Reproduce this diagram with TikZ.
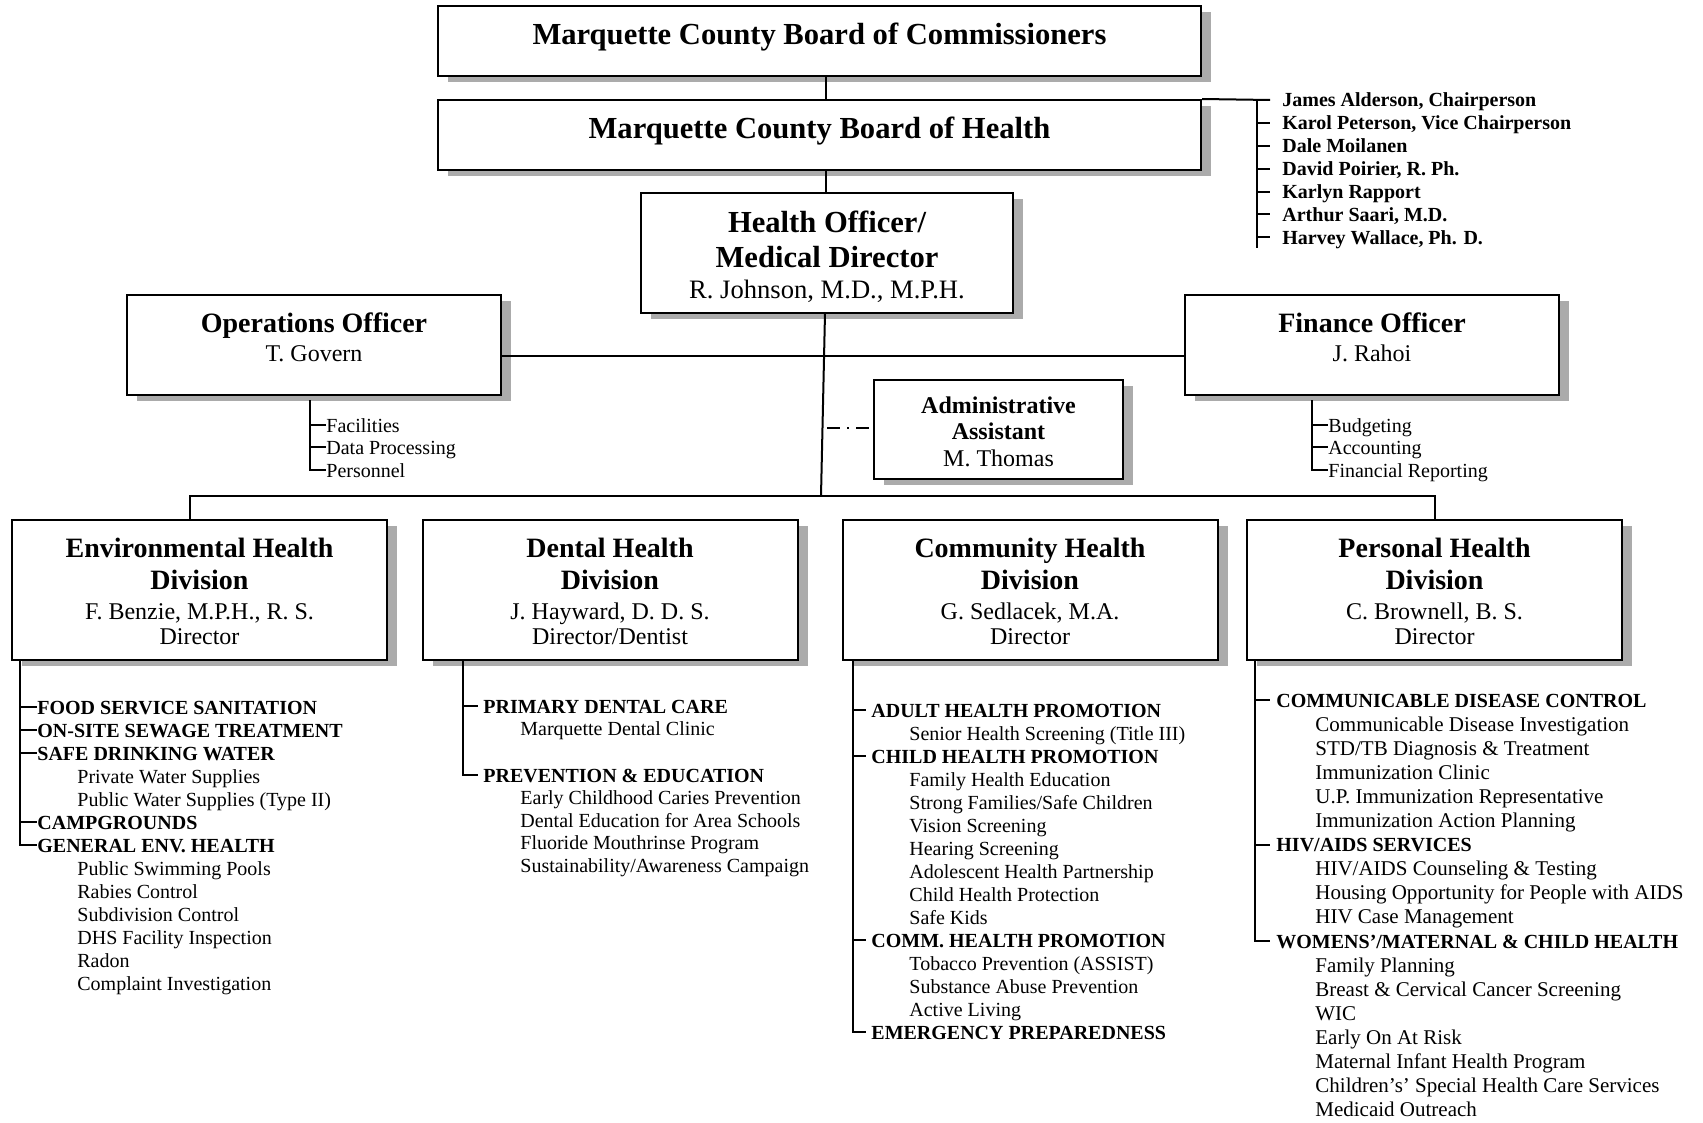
\documentclass[tikz,border=0pt]{standalone}
\usepackage{fontspec}
\setmainfont{Liberation Serif}
\usetikzlibrary{shadows}
\begin{document}
\begin{tikzpicture}[x=0.5pt,y=-0.5pt,
  box/.style={draw=black, line width=1pt, fill=white, inner sep=0pt,
    general shadow={fill=black!33, shadow xshift=5pt, shadow yshift=-3pt}},
  divbox/.style={box, minimum width=187.5pt, minimum height=70pt},
  ln/.style={line width=1pt},
  tl/.style={inner sep=0pt, anchor=base},
  ftA/.style={font=\fontsize{15.3}{18}\selectfont\bfseries},
  ftB/.style={font=\fontsize{14}{16}\selectfont\bfseries},
  ftC/.style={font=\fontsize{12}{14}\selectfont},
  ftCb/.style={font=\fontsize{12}{14}\selectfont\bfseries},
  ftD/.style={font=\fontsize{13.3}{15}\selectfont},
  li/.style={inner sep=0pt, anchor=west, text height=7pt, text depth=0pt, font=\fontsize{10}{12}\selectfont},
  lh/.style={li, font=\fontsize{10}{12}\selectfont\bfseries},
  lp/.style={li, font=\fontsize{10.5}{12}\selectfont}]
\useasboundingbox (0,0) rectangle (1703,1123);
\fill[white] (0,0) rectangle (1703,1123);

% ---------- boxes ----------
\node[box, minimum width=381.5pt, minimum height=35pt] (comm) at (819.5,41) {};
\node[box, minimum width=381.5pt, minimum height=35pt] (boh) at (819.5,135) {};
\node[box, minimum width=186pt, minimum height=60pt] (ho) at (827,253) {};
\node[box, minimum width=187pt, minimum height=50pt] (ops) at (314,345) {};
\node[box, minimum width=187pt, minimum height=50pt] (fin) at (1372,345) {};
\node[box, minimum width=124.5pt, minimum height=49.5pt] (adm) at (998.5,429.5) {};
\node[divbox] (env) at (199.5,590) {};
\node[divbox] (den) at (610,590) {};
\node[divbox] (com) at (1030,590) {};
\node[divbox] (per) at (1434.5,590) {};

% ---------- box texts ----------
\node[tl, ftA] (commt) at (819.5,45) {Marquette County Board of Commissioners};
\node[tl, ftA] (boht) at (819.5,139) {Marquette County Board of Health};
\node[tl, ftA] (hot1) at (827,233) {Health Officer/};
\node[tl, ftA] (hot2) at (827,268) {Medical Director};
\node[tl, ftD] (hot3) at (827,299) {R. Johnson, M.D., M.P.H.};
\node[tl, ftB] (opst1) at (314,333) {Operations Officer};
\node[tl, ftC] (opst2) at (314,361) {T. Govern};
\node[tl, ftB] (fint1) at (1372,333) {Finance Officer};
\node[tl, ftC] (fint2) at (1372,361) {J. Rahoi};
\node[tl, ftCb] (admt1) at (998.5,413) {Administrative};
\node[tl, ftCb] (admt2) at (998.5,439) {Assistant};
\node[tl, ftC] (admt3) at (998.5,466) {M. Thomas};

\node[tl, ftB] (envt1) at (199.5,557) {Environmental Health};
\node[tl, ftB] (envt2) at (199.5,589) {Division};
\node[tl, ftC] (envt3) at (199.5,619) {F. Benzie, M.P.H., R. S.};
\node[tl, ftC] (envt4) at (199.5,644) {Director};

\node[tl, ftB] (dent1) at (610,557) {Dental Health};
\node[tl, ftB] (dent2) at (610,589) {Division};
\node[tl, ftC] (dent3) at (610,619) {J. Hayward, D. D. S.};
\node[tl, ftC] (dent4) at (610,644) {Director/Dentist};

\node[tl, ftB] (comt1) at (1030,557) {Community Health};
\node[tl, ftB] (comt2) at (1030,589) {Division};
\node[tl, ftC] (comt3) at (1030,619) {G. Sedlacek, M.A.};
\node[tl, ftC] (comt4) at (1030,644) {Director};

\node[tl, ftB] (pert1) at (1434.5,557) {Personal Health};
\node[tl, ftB] (pert2) at (1434.5,589) {Division};
\node[tl, ftC] (pert3) at (1434.5,619) {C. Brownell, B. S.};
\node[tl, ftC] (pert4) at (1434.5,644) {Director};

% ---------- main connectors ----------
\coordinate (vx) at (826,0);
\draw[ln] (comm.south -| vx) -- (boh.north -| vx);
\draw[ln] (boh.south -| vx) -- (ho.north -| vx);
\coordinate (ctop) at (825,313);
\coordinate (cbot) at (821,496);
\draw[ln] (ctop) -- (cbot);
\draw[ln] ([yshift=-5.5pt]ops.east) -- ([yshift=-5.5pt]fin.west);
\coordinate (dd) at (827,428);
\draw[line width=1pt, dash pattern=on 6.5pt off 3.5pt on 1pt off 3.5pt on 6.5pt off 10pt] (dd) -- (adm.west |- dd);
\coordinate (busL) at (190,496);
\coordinate (busR) at (1434.5,496);
\draw[ln] (busL |- env.north) -- (busL) -- (busR) -- (per.north);

% ---------- board members ----------
\node[lh] (m1) at (1282,100) {James Alderson, Chairperson};
\node[lh] (m2) at (1282,122.9) {Karol Peterson, Vice Chairperson};
\node[lh] (m3) at (1282,145.8) {Dale Moilanen};
\node[lh] (m4) at (1282,168.7) {David Poirier, R. Ph.};
\node[lh] (m5) at (1282,191.6) {Karlyn Rapport};
\node[lh] (m6) at (1282,214.5) {Arthur Saari, M.D.};
\node[lh] (m7) at (1282,237.4) {Harvey Wallace, Ph. D.};
\coordinate (memT) at (1257,100);
\coordinate (memB) at (1257,248);
\draw[ln] (boh.north east) -- ([xshift=-6pt]m1.west);
\draw[ln] (memT) -- (memB);
\foreach \n in {m2,m3,m4,m5,m6,m7} \draw[ln] (memT |- \n.west) -- ([xshift=-6pt]\n.west);

% ---------- operations list ----------
\coordinate (opsT) at (310,400);
\node[li] (o1) at (326,425) {Facilities};
\node[li] (o2) at (326,447) {Data Processing};
\node[li] (o3) at (326,470) {Personnel};
\draw[ln] (opsT) -- (opsT |- o3.west) -- (o3.west);
\foreach \n in {o1,o2} \draw[ln] (opsT |- \n.west) -- (\n.west);

% ---------- finance list ----------
\coordinate (finT) at (1312,400);
\node[li] (f1) at (1328,425) {Budgeting};
\node[li] (f2) at (1328,447) {Accounting};
\node[li] (f3) at (1328,470) {Financial Reporting};
\draw[ln] (finT) -- (finT |- f3.west) -- (f3.west);
\foreach \n in {f1,f2} \draw[ln] (finT |- \n.west) -- (\n.west);

% ---------- environmental list ----------
\coordinate (envT) at (20,660);
\node[lh] (e1) at (37,707) {FOOD SERVICE SANITATION};
\node[lh] (e2) at (37,730) {ON-SITE SEWAGE TREATMENT};
\node[lh] (e3) at (37,753) {SAFE DRINKING WATER};
\node[li] (e4) at (77,776) {Private Water Supplies};
\node[li] (e5) at (77,799) {Public Water Supplies (Type II)};
\node[lh] (e6) at (37,822) {CAMPGROUNDS};
\node[lh] (e7) at (37,845) {GENERAL ENV. HEALTH};
\node[li] (e8) at (77,868) {Public Swimming Pools};
\node[li] (e9) at (77,891) {Rabies Control};
\node[li] (e10) at (77,914) {Subdivision Control};
\node[li] (e11) at (77,937) {DHS Facility Inspection};
\node[li] (e12) at (77,960) {Radon};
\node[li] (e13) at (77,983) {Complaint Investigation};
\draw[ln] (envT) -- (envT |- e7.west) -- (e7.west);
\foreach \n in {e1,e2,e3,e6} \draw[ln] (envT |- \n.west) -- (\n.west);

% ---------- dental list ----------
\coordinate (denT) at (463,660);
\node[lh] (d1) at (483,706) {PRIMARY DENTAL CARE};
\node[li] (d2) at (520,728) {Marquette Dental Clinic};
\node[lh] (d3) at (483,775) {PREVENTION \& EDUCATION};
\node[li] (d4) at (520,797.5) {Early Childhood Caries Prevention};
\node[li] (d5) at (520,820) {Dental Education for Area Schools};
\node[li] (d6) at (520,842.5) {Fluoride Mouthrinse Program};
\node[li] (d7) at (520,865) {Sustainability/Awareness Campaign};
\draw[ln] (denT) -- (denT |- d3.west) -- ([xshift=-2.5pt]d3.west);
\draw[ln] (denT |- d1.west) -- ([xshift=-2.5pt]d1.west);

% ---------- community list ----------
\coordinate (comT) at (853,660);
\node[lh] (c1) at (871,710) {ADULT HEALTH PROMOTION};
\node[li] (c2) at (909,733) {Senior Health Screening (Title III)};
\node[lh] (c3) at (871,756) {CHILD HEALTH PROMOTION};
\node[li] (c4) at (909,779) {Family Health Education};
\node[li] (c5) at (909,802) {Strong Families/Safe Children};
\node[li] (c6) at (909,825) {Vision Screening};
\node[li] (c7) at (909,848) {Hearing Screening};
\node[li] (c8) at (909,871) {Adolescent Health Partnership};
\node[li] (c9) at (909,894) {Child Health Protection};
\node[li] (c10) at (909,917) {Safe Kids};
\node[lh] (c11) at (871,940) {COMM. HEALTH PROMOTION};
\node[li] (c12) at (909,963) {Tobacco Prevention (ASSIST)};
\node[li] (c13) at (909,986) {Substance Abuse Prevention};
\node[li] (c14) at (909,1009) {Active Living};
\node[lh] (c15) at (871,1032) {EMERGENCY PREPAREDNESS};
\draw[ln] (comT) -- (comT |- c15.west) -- ([xshift=-2.5pt]c15.west);
\foreach \n in {c1,c3,c11} \draw[ln] (comT |- \n.west) -- ([xshift=-2.5pt]\n.west);

% ---------- personal list ----------
\coordinate (perT) at (1255,660);
\node[lh] (p1) at (1276,700) {COMMUNICABLE DISEASE CONTROL};
\node[lp] (p2) at (1315,724.1) {Communicable Disease Investigation};
\node[lp] (p3) at (1315,748.2) {STD/TB Diagnosis \& Treatment};
\node[lp] (p4) at (1315,772.3) {Immunization Clinic};
\node[lp] (p5) at (1315,796.4) {U.P. Immunization Representative};
\node[lp] (p6) at (1315,820.5) {Immunization Action Planning};
\node[lh] (p7) at (1276,844.6) {HIV/AIDS SERVICES};
\node[lp] (p8) at (1315,868.7) {HIV/AIDS Counseling \& Testing};
\node[lp] (p9) at (1315,892.8) {Housing Opportunity for People with AIDS};
\node[lp] (p10) at (1315,916.9) {HIV Case Management};
\node[lh] (p11) at (1276,941) {WOMENS’/MATERNAL \& CHILD HEALTH};
\node[lp] (p12) at (1315,965.1) {Family Planning};
\node[lp] (p13) at (1315,989.2) {Breast \& Cervical Cancer Screening};
\node[lp] (p14) at (1315,1013.3) {WIC};
\node[lp] (p15) at (1315,1037.4) {Early On At Risk};
\node[lp] (p16) at (1315,1061.5) {Maternal Infant Health Program};
\node[lp] (p17) at (1315,1085.6) {Children’s’ Special Health Care Services};
\node[lp] (p18) at (1315,1109.7) {Medicaid Outreach};
\draw[ln] (perT) -- (perT |- p11.west) -- ([xshift=-3pt]p11.west);
\foreach \n in {p1,p7} \draw[ln] (perT |- \n.west) -- ([xshift=-3pt]\n.west);
\end{tikzpicture}
\end{document}
